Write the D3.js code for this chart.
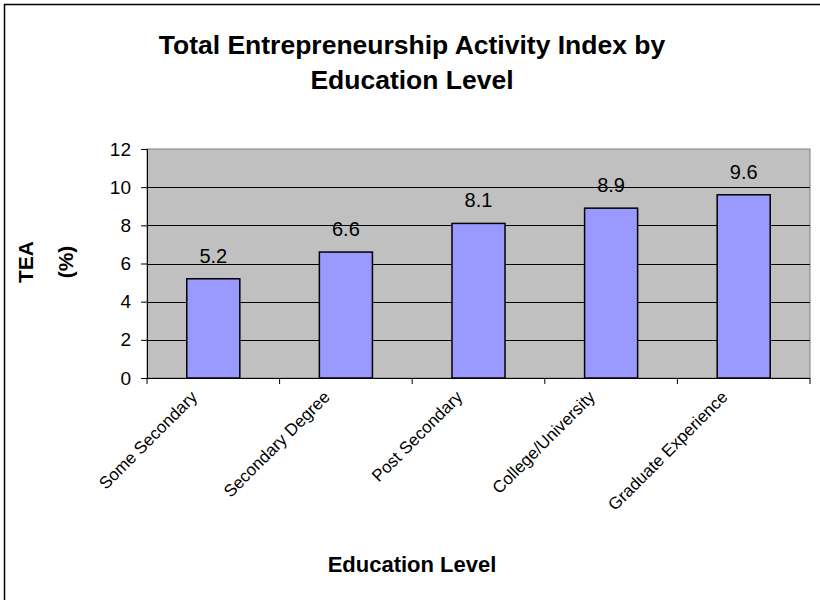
<!DOCTYPE html>
<html>
<head>
<meta charset="utf-8">
<script src="https://cdn.jsdelivr.net/npm/d3@7"></script>
<style>
  html, body { margin: 0; padding: 0; background: #fff; }
  svg { display: block; font-family: "Liberation Sans", Arial, sans-serif; }
</style>
</head>
<body>
<svg id="chart" width="820" height="600"></svg>
<script>
const categories = ["Some Secondary", "Secondary Degree", "Post Secondary", "College/University", "Graduate Experience"];
const values = [5.2, 6.6, 8.1, 8.9, 9.6];
const yTicks = [0, 2, 4, 6, 8, 10, 12];
const titleLines = ["Total Entrepreneurship Activity Index by", "Education Level"];
const yTitleLines = ["TEA", "(%)"];
const xTitle = "Education Level";

const svg = d3.select("#chart");
const plot = { left: 147, right: 810, top: 149, bottom: 378 };

// outer border (top & left visible)
svg.append("rect").attr("x", 4.5).attr("y", 4.5).attr("width", 830).attr("height", 620)
  .attr("fill", "none").attr("stroke", "#000").attr("stroke-width", 1.5);

const x = d3.scaleBand().domain(categories).range([plot.left, plot.right])
  .paddingInner(0.6).paddingOuter(0.3);
const y = d3.scaleLinear().domain([0, 12]).range([plot.bottom, plot.top]);

// plot background
svg.append("rect").attr("x", plot.left).attr("y", plot.top)
  .attr("width", plot.right - plot.left).attr("height", plot.bottom - plot.top)
  .attr("fill", "#C0C0C0").attr("stroke", "#808080").attr("stroke-width", 1);

// gridlines
svg.append("g").selectAll("line").data(yTicks.filter(d => d > 0 && d < 12)).join("line")
  .attr("x1", plot.left).attr("x2", plot.right)
  .attr("y1", d => Math.round(y(d)) + 0.5).attr("y2", d => Math.round(y(d)) + 0.5)
  .attr("stroke", "#000").attr("stroke-width", 1);

// bars
svg.append("g").selectAll("rect").data(values).join("rect")
  .attr("x", (d, i) => x(categories[i]))
  .attr("y", d => y(d))
  .attr("width", x.bandwidth())
  .attr("height", d => plot.bottom - y(d))
  .attr("fill", "#9999FF").attr("stroke", "#000").attr("stroke-width", 1.5);

// data labels
svg.append("g").selectAll("text").data(values).join("text")
  .attr("x", (d, i) => x(categories[i]) + x.bandwidth() / 2)
  .attr("y", d => y(d) - 16)
  .attr("text-anchor", "middle").attr("font-size", 20).attr("fill", "#000")
  .text(d => d.toFixed(1));

// y axis
const yAxis = d3.axisLeft(y).tickValues(yTicks).tickSize(6).tickPadding(10).tickFormat(d3.format("d"));
const gy = svg.append("g").attr("transform", `translate(${plot.left},0)`).call(yAxis);
gy.select(".domain").attr("stroke", "#000");
gy.selectAll(".tick line").attr("stroke", "#000");
gy.selectAll(".tick text").attr("font-size", 19).attr("fill", "#000")
  .attr("font-family", "Liberation Sans, Arial, sans-serif");

// x axis with boundary ticks
const xa = svg.append("g");
xa.append("line").attr("x1", plot.left).attr("x2", plot.right)
  .attr("y1", plot.bottom + 0.5).attr("y2", plot.bottom + 0.5).attr("stroke", "#000");
const step = (plot.right - plot.left) / categories.length;
xa.selectAll("line.t").data(d3.range(categories.length + 1)).join("line").attr("class", "t")
  .attr("x1", i => plot.left + i * step).attr("x2", i => plot.left + i * step)
  .attr("y1", plot.bottom).attr("y2", plot.bottom + 6).attr("stroke", "#000");

xa.selectAll("text").data(categories).join("text")
  .attr("transform", d => `translate(${x(d) + x.bandwidth() / 2 - 15},${plot.bottom + 20}) rotate(-45)`)
  .attr("text-anchor", "end").attr("font-size", 17).attr("fill", "#000")
  .text(d => d);

// title
svg.append("text").attr("x", 412).attr("text-anchor", "middle")
  .attr("font-size", 26.5).attr("font-weight", "bold")
  .selectAll("tspan").data(titleLines).join("tspan")
  .attr("x", 412).attr("y", (d, i) => 54 + i * 35).text(d => d);

// y title
svg.append("g").attr("transform", "translate(0,262)").selectAll("text").data(yTitleLines).join("text")
  .attr("transform", (d, i) => `translate(${33 + i * 40},0) rotate(-90)`)
  .attr("text-anchor", "middle").attr("font-size", 21).attr("font-weight", "bold")
  .text(d => d);

// x title
svg.append("text").attr("x", 412).attr("y", 572).attr("text-anchor", "middle")
  .attr("font-size", 22).attr("font-weight", "bold").text(xTitle);
</script>
</body>
</html>
